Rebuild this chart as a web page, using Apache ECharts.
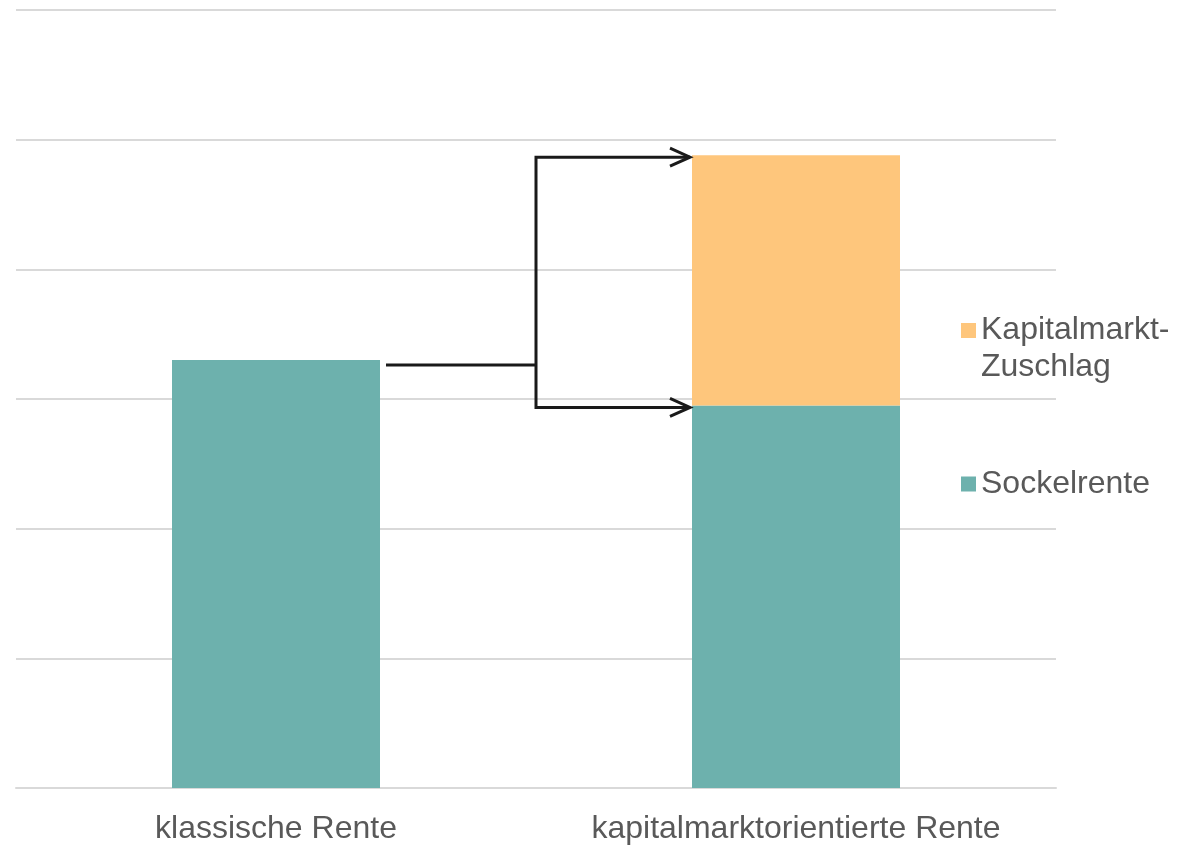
<!DOCTYPE html>
<html>
<head>
<meta charset="utf-8">
<style>
  html, body { margin: 0; padding: 0; background: #ffffff; }
  #chart { width: 1197px; height: 845px; }
</style>
<script src="https://cdn.jsdelivr.net/npm/echarts@6/dist/echarts.min.js"></script>
</head>
<body>
<div id="chart"></div>
<script>
// Rentenvergleich: klassische vs. kapitalmarktorientierte Rente
const categories = ['klassische Rente', 'kapitalmarktorientierte Rente'];
const sockelrente = [3.3, 2.95];
const zuschlag = ['-', 1.93];
const seriesNames = ['Sockelrente', 'Kapitalmarkt-Zuschlag'];

const TEAL = '#6db1ad';
const ORANGE = '#fec67c';
const TEXT = '#595959';
const GRID = '#d9d9d9';
const FONT = "'Liberation Sans', Arial, sans-serif";
const BAR_RATIO = 0.4;
const LINE_H = 37;

const chart = echarts.init(document.getElementById('chart'), null, { renderer: 'canvas' });

const option = {
  animation: false,
  backgroundColor: '#ffffff',
  grid: { left: 16, right: 141, top: 10, bottom: 57, containLabel: false },
  xAxis: {
    type: 'category',
    data: categories,
    axisLine: { show: true, lineStyle: { color: GRID, width: 2 } },
    axisTick: { show: false },
    axisLabel: { color: TEXT, fontSize: 32, fontFamily: FONT, margin: 25, interval: 0 }
  },
  yAxis: {
    type: 'value',
    min: 0,
    max: 6,
    interval: 1,
    axisLabel: { show: false },
    axisLine: { show: false },
    axisTick: { show: false },
    splitLine: { lineStyle: { color: GRID, width: 2 } }
  },
  legend: [
    {
      // leading empty line keeps the square level with the first text line
      data: [{ name: seriesNames[1], icon: 'rect' }],
      orient: 'vertical',
      left: 961,
      top: 275,
      padding: 0,
      itemWidth: 15,
      itemHeight: 15,
      formatter: () => '\nKapitalmarkt-\nZuschlag',
      textStyle: { color: TEXT, fontSize: 32, fontFamily: FONT, lineHeight: LINE_H }
    },
    {
      data: [{ name: seriesNames[0], icon: 'rect' }],
      orient: 'vertical',
      left: 961,
      top: 468,
      padding: 0,
      itemWidth: 15,
      itemHeight: 15,
      textStyle: { color: TEXT, fontSize: 32, fontFamily: FONT }
    }
  ],
  series: [
    {
      name: seriesNames[0],
      type: 'bar',
      stack: 'rente',
      barWidth: (BAR_RATIO * 100) + '%',
      itemStyle: { color: TEAL },
      data: sockelrente
    },
    {
      name: seriesNames[1],
      type: 'bar',
      stack: 'rente',
      barWidth: (BAR_RATIO * 100) + '%',
      itemStyle: { color: ORANGE },
      data: zuschlag
    }
  ]
};

chart.setOption(option);

// Connector arrows from the classic pension to both parts of the stacked bar
function drawArrows() {
  const p0 = chart.convertToPixel({ seriesIndex: 0 }, [0, sockelrente[0]]);
  const p1 = chart.convertToPixel({ seriesIndex: 0 }, [1, sockelrente[1]]);
  const pTot = chart.convertToPixel({ seriesIndex: 0 }, [1, sockelrente[1] + zuschlag[1]]);
  const band = p1[0] - p0[0];
  const half = band * BAR_RATIO / 2;
  const leftRight = p0[0] + half;
  const rightLeft = p1[0] - half;

  const xStart = leftRight + 6;
  const xMid = Math.round((leftRight + rightLeft) / 2);
  const xEnd = rightLeft - 2;
  const yStart = p0[1] + 5;
  const yUp = pTot[1] + 2;
  const yLow = p1[1] + 2;

  const stroke = { stroke: '#1a1a1a', lineWidth: 3, fill: null, lineJoin: 'miter', lineCap: 'butt' };
  const head = (y) => ({
    type: 'polyline',
    shape: { points: [[xEnd - 20, y - 9], [xEnd, y], [xEnd - 20, y + 9]] },
    style: stroke,
    z: 100
  });

  chart.setOption({
    graphic: [
      { type: 'polyline', shape: { points: [[xStart, yStart], [xMid, yStart]] }, style: stroke, z: 100 },
      { type: 'polyline', shape: { points: [[xEnd, yUp], [xMid, yUp], [xMid, yLow], [xEnd, yLow]] }, style: stroke, z: 100 },
      head(yUp),
      head(yLow)
    ]
  });
}

drawArrows();
</script>
</body>
</html>
